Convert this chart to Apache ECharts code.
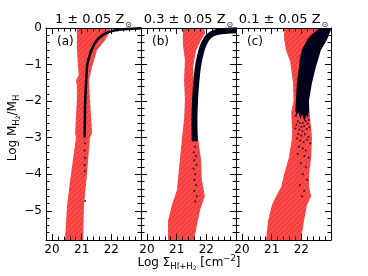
<!DOCTYPE html>
<html><head><meta charset="utf-8">
<script src="https://cdn.jsdelivr.net/npm/echarts@6/dist/echarts.min.js"></script>
<style>html,body{margin:0;padding:0;background:#fff}#c{width:368px;height:276px}</style>
</head><body><div id="c"></div>
<script>
// ---- data ----
const xMajor = [20, 21, 22];
const yMajor = [0, -1, -2, -3, -4, -5];
const titles = ['1 ± 0.05 Z', '0.3 ± 0.05 Z', '0.1 ± 0.05 Z'];
const panelTags = ['(a)', '(b)', '(c)'];

// red hatched regions (log Sigma, log f), outline
const redA = [[20.84,0],[20.84,-0.33],[20.84,-0.6],[20.88,-1.07],[20.90,-1.3],[20.81,-1.42],[20.84,-1.6],[20.84,-1.97],[20.78,-2.87],[20.81,-3.0],[20.64,-4.0],[20.51,-4.84],[20.44,-5.8],
  [21.05,-5.8],[21.08,-4.84],[21.18,-4.0],[21.28,-3.0],[21.35,-2.87],[21.28,-1.97],[21.25,-1.42],[21.35,-1.07],[21.52,-0.6],[21.79,-0.33],[21.95,-0.1],[21.95,0]];
const redB = [[21.21,0],[21.21,-0.46],[21.28,-0.87],[21.25,-1.42],[21.28,-1.97],[21.25,-2.51],[21.18,-3.0],[21.11,-3.6],[21.01,-4.43],[20.84,-4.84],[20.71,-5.27],[20.71,-5.8],
  [21.58,-5.8],[21.79,-4.97],[21.95,-4.6],[21.85,-4.15],[21.82,-3.6],[21.72,-3.0],[21.62,-2.24],[21.58,-1.5],[21.55,-1.07],[21.66,-0.6],[21.82,-0.33],[21.96,-0.14],[21.92,0]];
const redC = [[21.42,0],[21.42,-0.3],[21.48,-0.6],[21.62,-0.9],[21.65,-1.07],[21.72,-1.5],[21.74,-2.0],[21.66,-2.3],[21.69,-2.8],[21.69,-3.0],[21.58,-3.55],[21.42,-4.0],[21.32,-4.35],[21.15,-4.6],[21.01,-4.84],[20.88,-5.27],[20.81,-5.8],
  [21.99,-5.8],[22.09,-5.27],[22.19,-4.84],[22.33,-4.6],[22.26,-4.35],[22.26,-4.0],[22.33,-3.55],[22.36,-3.0],[22.3,-2.5],[22.25,-2.0],[22.3,-1.5],[22.42,-1.1],[22.5,-0.6],[22.6,-0.3],[22.55,0]];

// model curves
const curveA = [[21.10,-3.0],[21.11,-2.5],[21.12,-2.0],[21.15,-1.5],[21.19,-1.0],[21.27,-0.75],[21.36,-0.55],[21.52,-0.33],[21.70,-0.2],[21.88,-0.12],[22.1,-0.07],[22.4,-0.035],[22.7,-0.02],[23.0,-0.01]];
const dotsA = [[21.11,-3.15],[21.10,-3.35],[21.11,-3.55],[21.10,-3.75],[21.11,-3.92],[21.12,-4.73]];
const curveB = [[21.61,-3.1],[21.60,-2.5],[21.62,-2.0],[21.66,-1.5],[21.72,-1.05],[21.78,-0.8],[21.86,-0.55],[21.95,-0.38],[22.05,-0.25],[22.25,-0.14],[22.5,-0.09],[22.8,-0.07],[23.0,-0.06]];
const dotsB = [[21.62,-3.25],[21.58,-3.4],[21.65,-3.5],[21.6,-3.62],[21.67,-3.75],[21.57,-3.85],[21.63,-4.0],[21.6,-4.15],[21.66,-4.3],[21.6,-4.45],[21.68,-4.6],[21.63,-4.75]];
const bandC = [[22.6,0],[22.5,-0.08],[22.32,-0.2],[22.19,-0.33],[22.02,-0.6],[21.95,-0.85],[21.92,-1.07],[21.85,-1.5],[21.82,-1.97],[21.80,-2.25],[21.84,-2.4],[21.9,-2.3],[21.97,-2.5],[22.03,-2.35],[22.1,-2.55],[22.17,-2.38],[22.22,-2.48],[22.26,-2.25],
  [22.26,-1.97],[22.36,-1.5],[22.49,-1.07],[22.66,-0.6],[22.86,-0.33],[22.95,-0.15],[23.0,-0.05],[23.0,0]];
const dotsC = [[21.82,-2.4],[21.88,-2.55],[21.95,-2.6],[22.05,-2.6],[22.15,-2.55],[22.25,-2.52],[21.84,-2.65],[22.0,-2.7],[22.1,-2.68],[22.22,-2.62],[21.8,-2.75],[21.93,-2.78],[22.04,-2.82],[22.18,-2.76],[22.28,-2.72],[21.9,-2.9],[22.0,-2.95],[22.12,-2.9],[22.24,-2.98],[21.86,-3.02],[21.97,-3.08],[22.08,-3.12],[22.2,-3.06],[22.3,-3.15],[21.92,-3.25],[22.05,-3.3],[22.15,-3.35],[21.88,-3.45],[22.1,-3.5],[22.25,-3.55],[21.98,-3.7],[22.15,-3.8],[22.05,-4.0],[22.2,-4.15],[21.95,-4.3],[22.1,-4.45],[22.02,-4.6]];

// ---- chart ----
const FONT = 'DejaVu Sans';
const INK = '#00001a';
function makeHatch() {
  const s = 5, c = document.createElement('canvas');
  c.width = s; c.height = s;
  const g = c.getContext('2d');
  g.fillStyle = '#ff4a4a'; g.fillRect(0, 0, s, s);
  g.strokeStyle = '#dc3030'; g.lineWidth = 0.8;
  g.beginPath();
  g.moveTo(0, s); g.lineTo(s, 0);
  g.moveTo(-1, 1); g.lineTo(1, -1);
  g.moveTo(s - 1, s + 1); g.lineTo(s + 1, s - 1);
  g.stroke();
  return c;
}
const hatch = { image: makeHatch(), repeat: 'repeat' };

const gridLeft = [46, 141, 236];
const grids = gridLeft.map(l => ({ left: l, top: 28, width: 95, height: 212 }));
const xAxis = [], yAxis = [];
const tickStyle = { color: '#000', width: 1 };
for (let i = 0; i < 3; i++) {
  for (const pos of ['bottom', 'top']) {
    xAxis.push({ gridIndex: i, type: 'value', min: 19.8, max: 23, position: pos, z: 10,
      axisLine: { show: true, onZero: false, lineStyle: tickStyle },
      axisTick: { show: true, inside: true, length: 6, customValues: xMajor, lineStyle: tickStyle },
      axisLabel: { show: pos === 'bottom', customValues: xMajor, margin: 4, fontSize: 12, color: '#000', fontFamily: FONT },
      splitLine: { show: false } });
    xAxis.push({ gridIndex: i, type: 'value', min: 19.8, max: 23, interval: 0.2, position: pos, z: 10,
      axisLine: { show: false, onZero: false },
      axisTick: { show: true, inside: true, length: 3.5, lineStyle: tickStyle },
      axisLabel: { show: false }, splitLine: { show: false } });
  }
  for (const pos of ['left', 'right']) {
    yAxis.push({ gridIndex: i, type: 'value', min: -5.8, max: 0, position: pos, z: 10,
      axisLine: { show: true, onZero: false, lineStyle: tickStyle },
      axisTick: { show: true, inside: true, length: 6, customValues: yMajor, lineStyle: tickStyle },
      axisLabel: { show: i === 0 && pos === 'left', customValues: yMajor, margin: 4, fontSize: 12, color: '#000', fontFamily: FONT,
        formatter: v => String(v).replace('-', '\u2212') },
      splitLine: { show: false } });
    yAxis.push({ gridIndex: i, type: 'value', min: -5.8, max: 0, interval: 0.2, position: pos, z: 10,
      axisLine: { show: false, onZero: false },
      axisTick: { show: true, inside: true, length: 3.5, lineStyle: tickStyle },
      axisLabel: { show: false }, splitLine: { show: false } });
  }
}

function polySeries(i, poly, fill, z) {
  return { type: 'custom', xAxisIndex: 4 * i, yAxisIndex: 4 * i, data: [[21, -1]], silent: true, z: z, clip: true,
    renderItem: (p, api) => ({ type: 'polygon', shape: { points: poly.map(q => api.coord(q)) }, style: { fill: fill } }) };
}
function lineSeries(i, data, w) {
  return { type: 'line', xAxisIndex: 4 * i, yAxisIndex: 4 * i, data: data, showSymbol: false, smooth: 0.3, silent: true, z: 3,
    lineStyle: { color: INK, width: w }, clip: true };
}
function dotSeries(i, data) {
  return { type: 'scatter', xAxisIndex: 4 * i, yAxisIndex: 4 * i, data: data, symbolSize: 2, silent: true, z: 4,
    itemStyle: { color: INK } };
}

const series = [
  polySeries(0, redA, hatch, 2), polySeries(1, redB, hatch, 2), polySeries(2, redC, hatch, 2),
  lineSeries(0, curveA, 2.5), dotSeries(0, dotsA),
  lineSeries(1, curveB, 6), dotSeries(1, dotsB),
  polySeries(2, bandC, INK, 3), dotSeries(2, dotsC)
];

const graphic = [];
titles.forEach((t, i) => {
  graphic.push({ type: 'text', x: gridLeft[i] + 47.5, y: 20, z: 20,
    style: { text: '{m|' + t + '}{s|\u2299}', align: 'center', verticalAlign: 'middle',
      rich: { m: { fontSize: 13, fontFamily: FONT, fill: '#000', lineHeight: 18 },
              s: { fontSize: 8, fontFamily: FONT, fill: '#000', lineHeight: 8, verticalAlign: 'bottom', padding: [0, 0, 0, 1] } } } });
  graphic.push({ type: 'text', x: gridLeft[i] + 11, y: 42, z: 20,
    style: { text: panelTags[i], align: 'left', verticalAlign: 'middle', fontSize: 12, fontFamily: FONT, fill: '#000' } });
});
graphic.push({ type: 'text', x: 13, y: 128, rotation: Math.PI / 2, z: 20,
  style: { text: '{m|Log M}{s|H}{t|2}{m|/M}{s|H}', align: 'center', verticalAlign: 'middle',
    rich: { m: { fontSize: 12, fontFamily: FONT, fill: '#000', lineHeight: 17 },
            s: { fontSize: 8.5, fontFamily: FONT, fill: '#000', lineHeight: 9, verticalAlign: 'bottom' },
            t: { fontSize: 6, fontFamily: FONT, fill: '#000', lineHeight: 4, verticalAlign: 'bottom' } } } });
graphic.push({ type: 'text', x: 189, y: 263, z: 20,
  style: { text: '{m|Log \u03a3}{s|HI+H}{t|2}{m| [cm}{u|\u22122}{m|]}', align: 'center', verticalAlign: 'middle',
    rich: { m: { fontSize: 12, fontFamily: FONT, fill: '#000', lineHeight: 17 },
            s: { fontSize: 8.5, fontFamily: FONT, fill: '#000', lineHeight: 9, verticalAlign: 'bottom' },
            t: { fontSize: 6, fontFamily: FONT, fill: '#000', lineHeight: 4, verticalAlign: 'bottom' },
            u: { fontSize: 8.5, fontFamily: FONT, fill: '#000', lineHeight: 9, verticalAlign: 'top' } } } });

const chart = echarts.init(document.getElementById('c'), null, { renderer: 'canvas' });
chart.setOption({ animation: false, backgroundColor: '#fff', grid: grids, xAxis: xAxis, yAxis: yAxis, series: series, graphic: graphic });
</script></body></html>
